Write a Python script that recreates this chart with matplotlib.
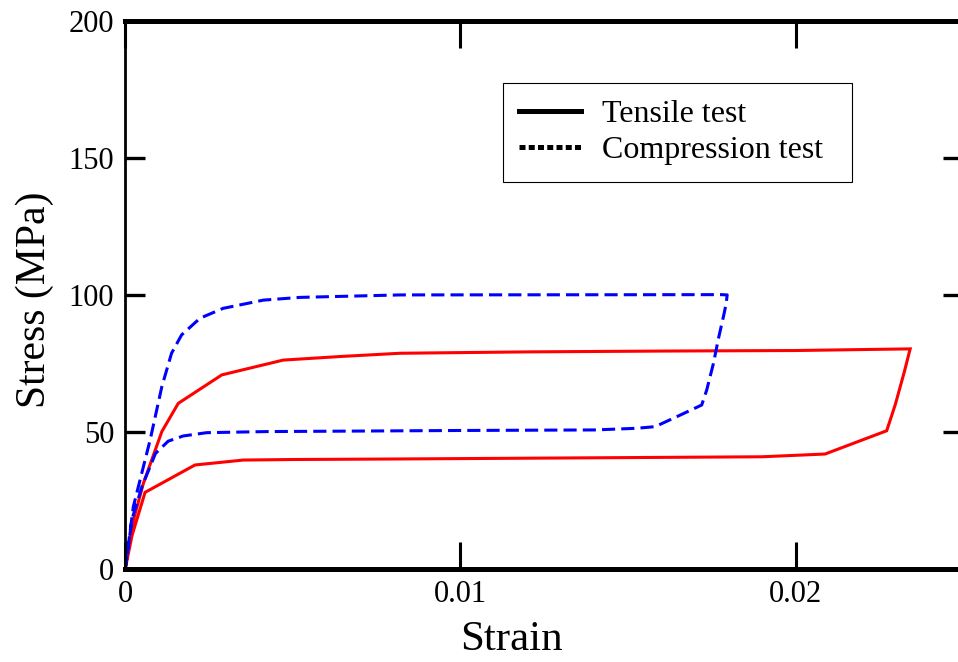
import matplotlib
matplotlib.use('Agg')
import matplotlib.pyplot as plt
from matplotlib.lines import Line2D

plt.rcParams['font.family'] = ['Liberation Serif', 'DejaVu Serif']

# ── data ───────────────────────────────────────────────────────────────────
tensile_strain = [0, 0.00019, 0.00054, 0.00109, 0.00158, 0.00288, 0.00471, 0.0064,
                  0.0082, 0.012, 0.016, 0.020, 0.02342, 0.02325, 0.02298, 0.02272,
                  0.02088, 0.019, 0.015, 0.0082, 0.005, 0.00352, 0.00208, 0.00059,
                  0.0002, 0]
tensile_stress = [0, 15.3, 31.1, 50, 60.3, 70.7, 76.1, 77.4,
                  78.6, 79.1, 79.4, 79.6, 80.2, 72, 60, 50.3,
                  41.8, 40.8, 40.5, 40.0, 39.8, 39.6, 37.8, 27.8,
                  12, 0]

compress_strain = [0, 0.00024, 0.00074, 0.00109, 0.00138, 0.00168, 0.00223, 0.00292,
                   0.00412, 0.00521, 0.0082, 0.0178, 0.01796, 0.01793, 0.01787, 0.0177,
                   0.01755, 0.01735, 0.0172, 0.01645, 0.01581, 0.01526, 0.014, 0.01,
                   0.00422, 0.00243, 0.00173, 0.00128, 0.0009, 0.0005, 0.0002, 0]
compress_stress = [0, 22.6, 46.9, 66.4, 78.6, 85.3, 91.4, 95,
                   98, 99, 99.9, 100, 99.9, 96.8, 93.2, 84,
                   74.9, 65.2, 59.7, 55.4, 51.8, 51.2, 50.6, 50.4,
                   50, 49.6, 48.4, 46.5, 42, 30, 18, 0]

x_ticks = [0, 0.01, 0.02]
x_tick_labels = ['0', '0.01', '0.02']
y_ticks = [0, 50, 100, 150, 200]

# ── figure ─────────────────────────────────────────────────────────────────
W, H = 958, 662
fig = plt.figure(figsize=(W / 100, H / 100), dpi=100)
ax = fig.add_axes([125.3 / W, 1 - 568.5 / H, 837.8 / W, 547.7 / H])

ax.plot(tensile_strain, tensile_stress, color='#ff0000', lw=2.2, solid_joinstyle='miter')
ax.plot(compress_strain, compress_stress, color='#0000ff', lw=2.2, dashes=(4.3, 2.0))

ax.set_xlim(0, 0.025)
ax.set_ylim(0, 200)
ax.set_xticks(x_ticks)
ax.set_xticklabels(x_tick_labels)
ax.set_yticks(y_ticks)

ax.tick_params(axis='x', direction='in', top=True, bottom=True, length=19.5, width=2.2,
               labelsize=22, pad=8.5)
ax.tick_params(axis='y', direction='in', left=True, right=True, length=14.5, width=2.4,
               labelsize=22, pad=8)

ax.spines['top'].set_linewidth(3.6)
ax.spines['bottom'].set_linewidth(3.6)
ax.spines['left'].set_linewidth(2.0)
ax.spines['right'].set_linewidth(2.0)

ax.set_xlabel('Strain', fontsize=31)
ax.xaxis.set_label_coords((511.6 - 125.3) / 837.8, -0.095)
ax.set_ylabel('Stress (MPa)', fontsize=30)
ax.yaxis.set_label_coords(-(125.3 - 54) / 837.8, 0.49)

# legend handles are black in the reference
handles = [Line2D([], [], color='black', lw=3.6),
           Line2D([], [], color='black', lw=3.6, dashes=(1.2, 0.65))]
leg = ax.legend(handles, ['Tensile test', 'Compression test'],
                loc='upper left',
                bbox_to_anchor=(502.7 / W, 1 - 180 / H, 349 / W, 96.7 / H),
                bbox_transform=fig.transFigure, mode='expand', borderaxespad=0,
                fontsize=23, handlelength=1.94, handletextpad=0.65,
                borderpad=0.52, labelspacing=0.2, fancybox=False, framealpha=1)
leg.get_frame().set_edgecolor('black')
leg.get_frame().set_linewidth(0.8)

fig.savefig('out.png', dpi=100)
